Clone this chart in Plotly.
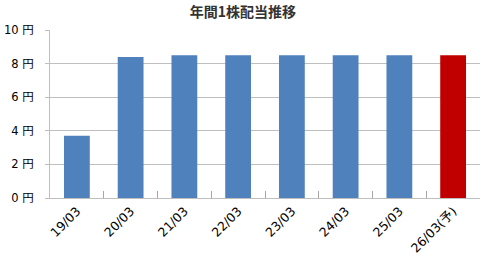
import plotly.graph_objects as go

categories = ["19/03", "20/03", "21/03", "22/03", "23/03", "24/03", "25/03", "26/03(予)"]
dividends = [3.7, 8.4, 8.5, 8.5, 8.5, 8.5, 8.5, 8.5]
bar_colors = ["#4F81BD"] * 7 + ["#C00000"]
y_ticks = [0, 2, 4, 6, 8, 10]
y_tick_labels = [f"{v}\u00a0円" for v in y_ticks]
title_text = "年間1株配当推移"

label_font = "DejaVu Sans, Noto Sans CJK JP, sans-serif"
title_font = "Noto Sans CJK JP, sans-serif"

fig = go.Figure()
fig.add_trace(go.Bar(
    x=categories,
    y=dividends,
    marker=dict(color=bar_colors, line=dict(width=0)),
    width=0.48,
))

fig.update_layout(
    width=494,
    height=263,
    margin=dict(l=50, r=14, t=30, b=65),
    paper_bgcolor="white",
    plot_bgcolor="white",
    showlegend=False,
    title=dict(
        text=f"<b>{title_text}</b>",
        x=243 / 494,
        xanchor="center",
        xref="container",
        y=1 - 12.5 / 263,
        yanchor="middle",
        font=dict(family=title_font, size=14, color="#333333"),
    ),
    font=dict(family=label_font, size=11, color="#000000"),
)

fig.update_xaxes(
    type="category",
    automargin=False,
    tickangle=-45,
    showline=True,
    linecolor="#BFBFBF",
    linewidth=1,
    ticks="inside",
    tickson="boundaries",
    ticklen=7,
    tickwidth=1,
    tickcolor="#A6A6A6",
    showgrid=False,
    tickfont=dict(family=label_font, size=12.5, color="#000000"),
)

fig.update_yaxes(
    range=[0, 10],
    automargin=False,
    tickvals=y_ticks,
    ticktext=y_tick_labels,
    showline=True,
    linecolor="#BFBFBF",
    linewidth=1,
    showgrid=True,
    gridcolor="#BFBFBF",
    gridwidth=1,
    ticks="outside",
    ticklen=4,
    tickcolor="#BFBFBF",
    zeroline=False,
    tickfont=dict(family=label_font, size=11.5, color="#000000"),
    ticklabelstandoff=9,
)

fig.write_html("out.html")
